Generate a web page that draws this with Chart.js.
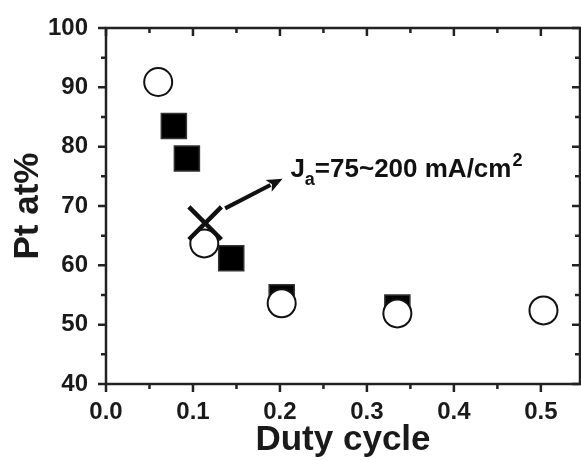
<!DOCTYPE html>
<html>
<head>
<meta charset="utf-8">
<script src="https://cdn.jsdelivr.net/npm/chart.js@4.4.1/dist/chart.umd.min.js"></script>
<style>
  html, body { margin: 0; padding: 0; background: #fff; }
  #wrap { width: 581px; height: 461px; }
</style>
</head>
<body>
<div id="wrap"><canvas id="c" width="581" height="461"></canvas></div>
<script>
// data
const squareX = [0.078, 0.093, 0.144, 0.202, 0.335];
const squareY = [83.5, 78.0, 61.2, 54.6, 52.9];
const circleX = [0.060, 0.113, 0.202, 0.335, 0.503];
const circleY = [90.9, 63.7, 53.6, 51.9, 52.4];
const crossX = [0.114];
const crossY = [67.1];

const xTicks = [0.0, 0.1, 0.2, 0.3, 0.4, 0.5];
const yTicks = [40, 50, 60, 70, 80, 90, 100];

// arrow + label anchor (data units)
const arrowFrom = [0.137, 69.6];
const arrowTo = [0.203, 74.6];
const labelAt = [0.212, 74.9];

const toPts = (xs, ys) => xs.map((x, i) => ({ x: x, y: ys[i] }));

const frame = {
  id: "frame",
  afterDatasetsDraw(chart) {
    const ctx = chart.ctx;
    const a = chart.chartArea;
    const sx = chart.scales.x, sy = chart.scales.y;
    ctx.save();
    ctx.strokeStyle = "#222";
    ctx.lineWidth = 2.5;
    ctx.strokeRect(a.left, a.top, a.right - a.left, a.bottom - a.top);

    // x ticks
    for (let v = 0; v <= sx.max + 1e-9; v += 0.05) {
      const px = sx.getPixelForValue(v);
      const major = Math.abs(v * 10 - Math.round(v * 10)) < 1e-6;
      const len = major ? 8 : 5;
      ctx.beginPath();
      ctx.moveTo(px, a.bottom); ctx.lineTo(px, a.bottom + len);
      ctx.moveTo(px, a.top); ctx.lineTo(px, a.top + len);
      ctx.stroke();
    }
    // y ticks
    for (let v = sy.min; v <= sy.max + 1e-9; v += 5) {
      const py = sy.getPixelForValue(v);
      const len = v % 10 === 0 ? 8 : 5;
      ctx.beginPath();
      ctx.moveTo(a.left - len, py); ctx.lineTo(a.left, py);
      ctx.moveTo(a.right, py); ctx.lineTo(a.right - len, py);
      ctx.stroke();
    }

    // arrow
    const x0 = sx.getPixelForValue(arrowFrom[0]), y0 = sy.getPixelForValue(arrowFrom[1]);
    const x1 = sx.getPixelForValue(arrowTo[0]), y1 = sy.getPixelForValue(arrowTo[1]);
    const ang = Math.atan2(y1 - y0, x1 - x0);
    const head = 17;
    ctx.strokeStyle = "#111";
    ctx.fillStyle = "#111";
    ctx.lineWidth = 4;
    ctx.beginPath();
    ctx.moveTo(x0, y0);
    ctx.lineTo(x1 - Math.cos(ang) * head * 0.8, y1 - Math.sin(ang) * head * 0.8);
    ctx.stroke();
    ctx.beginPath();
    ctx.moveTo(x1, y1);
    ctx.lineTo(x1 - head * Math.cos(ang - 0.4), y1 - head * Math.sin(ang - 0.4));
    ctx.lineTo(x1 - head * 0.7 * Math.cos(ang), y1 - head * 0.7 * Math.sin(ang));
    ctx.lineTo(x1 - head * Math.cos(ang + 0.4), y1 - head * Math.sin(ang + 0.4));
    ctx.closePath();
    ctx.fill();

    // label J_a=75~200 mA/cm^2
    let tx = sx.getPixelForValue(labelAt[0]);
    const ty = sy.getPixelForValue(labelAt[1]);
    const big = "bold 26px 'Liberation Sans', Arial, sans-serif";
    const small = "bold 18px 'Liberation Sans', Arial, sans-serif";
    ctx.textBaseline = "alphabetic";
    ctx.textAlign = "left";
    ctx.font = big; ctx.fillText("J", tx, ty); tx += ctx.measureText("J").width;
    ctx.font = small; ctx.fillText("a", tx, ty + 8); tx += ctx.measureText("a").width;
    ctx.font = big; ctx.fillText("=75~200 mA/cm", tx, ty); tx += ctx.measureText("=75~200 mA/cm").width;
    ctx.font = small; ctx.fillText("2", tx + 1, ty - 11);
    ctx.restore();
  }
};

new Chart(document.getElementById("c"), {
  type: "scatter",
  data: {
    datasets: [
      {
        label: "cross",
        data: toPts(crossX, crossY),
        pointStyle: "crossRot",
        pointRadius: 23,
        borderColor: "#111",
        borderWidth: 4.5,
      },
      {
        label: "open",
        data: toPts(circleX, circleY),
        pointStyle: "circle",
        pointRadius: 14,
        backgroundColor: "#fff",
        borderColor: "#111",
        borderWidth: 2,
      },
      {
        label: "filled",
        data: toPts(squareX, squareY),
        pointStyle: "rect",
        pointRadius: 17.7,
        backgroundColor: "#000",
        borderColor: "#333",
        borderWidth: 1.5,
      },
    ],
  },
  options: {
    responsive: false,
    animation: false,
    layout: { autoPadding: false, padding: { top: 28, right: 1, left: 0, bottom: 0 } },
    plugins: { legend: { display: false }, tooltip: { enabled: false } },
    scales: {
      x: {
        type: "linear",
        min: 0,
        max: 0.545,
        afterBuildTicks: (s) => { s.ticks = xTicks.map((v) => ({ value: v })); },
        afterFit: (s) => { s.height = 77; },
        grid: { display: false },
        border: { display: false },
        ticks: {
          padding: 6,
          color: "#1a1a1a",
          font: { family: "'Liberation Sans', Arial", size: 24, weight: "bold" },
          callback: (v) => Number(v).toFixed(1),
        },
        title: {
          display: true,
          text: "Duty cycle",
          color: "#1a1a1a",
          padding: { top: 0, bottom: 0 },
          font: { family: "'Liberation Sans', Arial", size: 35, weight: "bold" },
        },
      },
      y: {
        type: "linear",
        min: 40,
        max: 100,
        afterBuildTicks: (s) => { s.ticks = yTicks.map((v) => ({ value: v })); },
        afterFit: (s) => { s.width = 106; },
        grid: { display: false },
        border: { display: false },
        ticks: {
          padding: 10,
          color: "#1a1a1a",
          font: { family: "'Liberation Sans', Arial", size: 24, weight: "bold" },
        },
        title: {
          display: true,
          text: "Pt at%",
          color: "#1a1a1a",
          padding: { top: 7, bottom: 2 },
          font: { family: "'Liberation Sans', Arial", size: 35, weight: "bold" },
        },
      },
    },
  },
  plugins: [frame],
});
</script>
</body>
</html>
